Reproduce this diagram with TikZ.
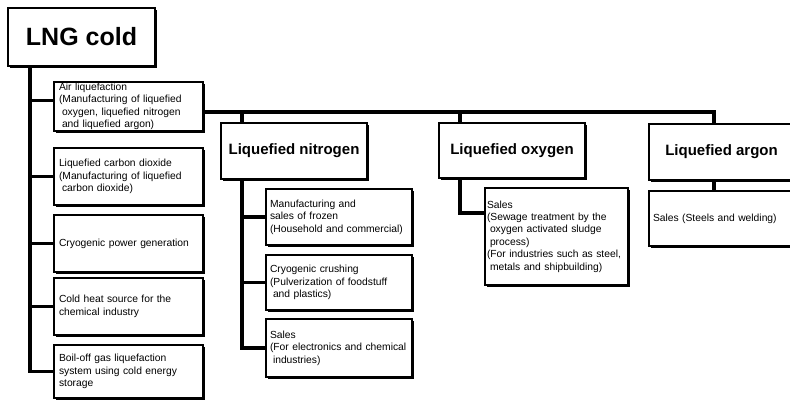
\documentclass[tikz,border=0pt]{standalone}
\usepackage{fontspec}
\setmainfont{Liberation Sans}
\usetikzlibrary{shadows,backgrounds}
\hyphenpenalty=10000
\exhyphenpenalty=10000
\tikzset{
  base/.style={draw=black, line width=1.4pt, fill=white, anchor=north west, outer sep=0pt,
    drop shadow={shadow xshift=2.4pt, shadow yshift=-2.4pt, opacity=1, fill=black}},
  titlebox/.style={base, align=center, inner sep=0pt, font=\bfseries\fontsize{15}{18}\selectfont},
  mainbox/.style={base, align=center, inner sep=0pt, font=\bfseries\fontsize{25}{30}\selectfont},
  sbox/.style={base, align=left, inner xsep=5pt, inner ysep=0pt, font=\fontsize{10.3}{12.4}\selectfont},
  conn/.style={line width=3.4pt, draw=black}
}
\newcommand{\ind}{\hspace*{3pt}}
\begin{document}
\hyphenpenalty=10000
\exhyphenpenalty=10000
\begin{tikzpicture}[x=1pt, y=-1pt]
\useasboundingbox (0,0) rectangle (790,403);
\clip (0,0) rectangle (790,403);
% coordinates for connector lines
\coordinate (tr) at (30,0);
\coordinate (my) at (0,112);
\coordinate (nx) at (242,0);
\coordinate (ox) at (460,0);
\coordinate (ax) at (714,0);
\coordinate (oy) at (0,213);

% boxes
\node[mainbox, minimum width=147pt, minimum height=58pt] (lng) at (8,8) {LNG cold};

\node[sbox, text width=139pt, minimum height=49pt] (air) at (54,82)
  {Air liquefaction\\(Manufacturing of liquefied\\\ind oxygen, liquefied nitrogen\\\ind and liquefied argon)};
\node[sbox, text width=139pt, minimum height=57pt] (co2) at (54,148)
  {Liquefied carbon dioxide\\(Manufacturing of liquefied\\\ind carbon dioxide)};
\node[sbox, text width=139pt, minimum height=57pt] (pow) at (54,215)
  {Cryogenic power generation};
\node[sbox, text width=139pt, minimum height=57pt] (heat) at (54,278)
  {Cold heat source for the\\chemical industry};
\node[sbox, text width=139pt, minimum height=53pt] (boil) at (54,345)
  {Boil-off gas liquefaction\\system using cold energy\\storage};

\node[titlebox, minimum width=146pt, minimum height=56pt] (nit) at (221,123) {Liquefied nitrogen};
\node[sbox, inner xsep=4pt, text width=138pt, minimum height=56pt] (ns1) at (266,189)
  {Manufacturing and\\sales of frozen\\(Household and commercial)};
\node[sbox, inner xsep=4pt, text width=138pt, minimum height=55pt] (ns2) at (266,255)
  {Cryogenic crushing\\(Pulverization of foodstuff\\\ind and plastics)};
\node[sbox, inner xsep=4pt, text width=138pt, minimum height=58pt] (ns3) at (266,319)
  {Sales\\(For electronics and chemical\\\ind industries)};

\node[titlebox, minimum width=146pt, minimum height=55pt] (oxy) at (439,123) {Liquefied oxygen};
\node[sbox, inner xsep=2pt, text width=139pt, minimum height=97pt] (os) at (485,188)
  {Sales\\(Sewage treatment by the\\\ind oxygen activated sludge\\\ind process)\\(For industries such as steel,\\\ind metals and shipbuilding)};

\node[titlebox, minimum width=145pt, minimum height=56pt] (arg) at (649,124) {Liquefied argon};
\node[sbox, inner xsep=4pt, text width=137pt, minimum height=55pt] (as) at (649,191)
  {Sales (Steels and welding)};

% connectors
\begin{pgfonlayer}{background}
\draw[conn] (tr |- lng.south) |- (boil.west);
\draw[conn] (tr |- air.west) ++(0,-6) -- ([yshift=6pt]air.west);
\draw[conn] (tr |- co2.west) -- (co2.west);
\draw[conn] (tr |- pow.west) -- (pow.west);
\draw[conn] (tr |- heat.west) -- (heat.west);
\draw[conn] (air.east |- my) -- (ax |- my) -- (ax |- arg.north);
\draw[conn] (nx |- my) -- (nx |- nit.north);
\draw[conn] (ox |- my) -- (ox |- oxy.north);
\draw[conn] (nx |- nit.south) |- (ns3.west);
\draw[conn] (nx |- ns1.west) -- (ns1.west);
\draw[conn] (nx |- ns2.west) -- (ns2.west);
\draw[conn] (ox |- oxy.south) |- (os.west |- oy);
\draw[conn] (ax |- arg.south) -- (ax |- as.north);
\end{pgfonlayer}
\end{tikzpicture}
\end{document}
